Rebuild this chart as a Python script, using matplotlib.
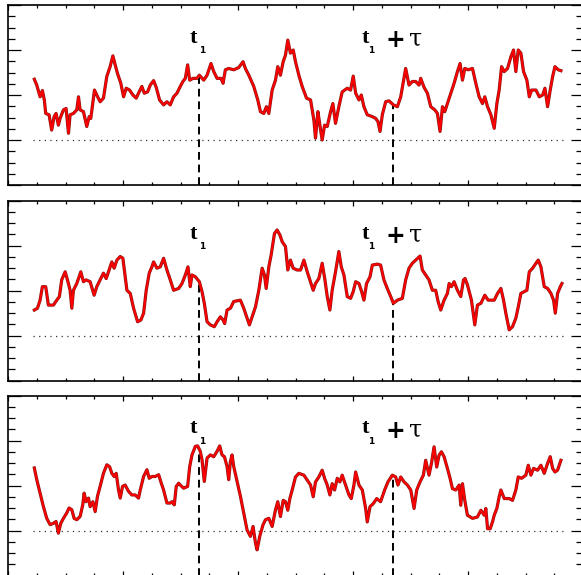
import numpy as np
import matplotlib
matplotlib.use("Agg")
import matplotlib.pyplot as plt
from matplotlib.ticker import MultipleLocator

# sample times (s) and signal values for the three realisations
panel1_t = [0.229, 0.250, 0.279, 0.299, 0.316, 0.328, 0.357, 0.380, 0.401, 0.418,
            0.438, 0.453, 0.482, 0.505, 0.526, 0.540, 0.569, 0.598, 0.613, 0.627,
            0.656, 0.685, 0.706, 0.720, 0.752, 0.772, 0.801, 0.830, 0.859, 0.888,
            0.912, 0.932, 0.952, 0.981, 1.005, 1.028, 1.057, 1.086, 1.115, 1.135,
            1.164, 1.185, 1.214, 1.237, 1.266, 1.289, 1.318, 1.353, 1.382, 1.411,
            1.440, 1.469, 1.498, 1.521, 1.542, 1.562, 1.580, 1.609, 1.643, 1.664,
            1.702, 1.731, 1.765, 1.789, 1.818, 1.852, 1.870, 1.890, 1.919, 1.963,
            2.006, 2.044, 2.064, 2.094, 2.137, 2.172, 2.195, 2.224, 2.247, 2.268,
            2.297, 2.326, 2.346, 2.369, 2.393, 2.413, 2.433, 2.456, 2.480, 2.500,
            2.529, 2.558, 2.596, 2.631, 2.660, 2.674, 2.695, 2.712, 2.732, 2.753,
            2.776, 2.805, 2.825, 2.848, 2.877, 2.906, 2.950, 2.979, 3.002, 3.023,
            3.052, 3.072, 3.095, 3.124, 3.168, 3.197, 3.217, 3.235, 3.255, 3.284,
            3.313, 3.351, 3.386, 3.415, 3.438, 3.458, 3.487, 3.516, 3.545, 3.574,
            3.589, 3.618, 3.647, 3.676, 3.711, 3.734, 3.757, 3.778, 3.798, 3.821,
            3.850, 3.879, 3.908, 3.931, 3.952, 3.972, 4.001, 4.039, 4.068, 4.097,
            4.126, 4.146, 4.170, 4.199, 4.228, 4.251, 4.271, 4.292, 4.315, 4.344,
            4.373, 4.396, 4.416, 4.437, 4.460, 4.483, 4.512, 4.533, 4.553, 4.591,
            4.620, 4.649, 4.669, 4.692, 4.715, 4.736, 4.756, 4.785, 4.808]
panel1_v = [1.35, 1.22, 0.96, 1.10, 0.89, 0.59, 0.56, 0.22, 0.52, 0.59,
            0.33, 0.48, 0.67, 0.70, 0.15, 0.56, 0.59, 0.67, 0.96, 0.67,
            0.63, 0.30, 0.52, 0.48, 1.11, 1.00, 0.85, 0.93, 1.41, 1.63,
            1.87, 1.67, 1.48, 1.26, 0.96, 1.15, 1.11, 1.00, 0.93, 1.04,
            1.19, 1.04, 1.07, 1.22, 1.32, 1.17, 0.89, 0.78, 0.85, 0.78,
            0.96, 1.04, 1.19, 1.30, 1.37, 1.67, 1.33, 1.37, 1.37, 1.44,
            1.33, 1.44, 1.70, 1.52, 1.37, 1.37, 1.26, 1.56, 1.59, 1.56,
            1.61, 1.74, 1.59, 1.44, 1.19, 0.89, 0.63, 0.59, 0.74, 0.59,
            1.11, 1.33, 1.63, 1.44, 1.74, 1.89, 2.22, 1.93, 2.00, 1.74,
            1.44, 1.19, 0.93, 0.89, 0.44, 0.04, 0.63, 0.33, 0.00, 0.33,
            0.30, 0.63, 0.81, 0.37, 0.74, 1.07, 1.15, 1.11, 1.42, 1.04,
            0.89, 1.00, 0.74, 0.56, 0.52, 0.48, 0.41, 0.19, 0.56, 0.85,
            0.87, 0.78, 0.74, 0.96, 1.30, 1.59, 1.22, 1.30, 1.30, 1.22,
            1.37, 1.17, 1.04, 0.74, 0.67, 0.59, 0.19, 0.74, 0.63, 0.81,
            1.04, 1.26, 1.52, 1.70, 1.33, 1.59, 1.56, 1.59, 1.26, 0.96,
            0.81, 0.96, 0.74, 0.56, 0.26, 0.81, 1.11, 1.63, 1.52, 1.59,
            1.85, 2.00, 1.52, 2.00, 1.93, 1.52, 1.33, 0.96, 1.11, 1.11,
            0.96, 1.00, 1.15, 0.74, 1.11, 1.41, 1.63, 1.56, 1.54]

panel2_t = [0.229, 0.256, 0.279, 0.299, 0.328, 0.351, 0.395, 0.424, 0.447, 0.467,
            0.497, 0.517, 0.540, 0.555, 0.569, 0.598, 0.633, 0.656, 0.679, 0.714,
            0.749, 0.772, 0.801, 0.830, 0.854, 0.874, 0.903, 0.923, 0.947, 0.976,
            0.999, 1.019, 1.034, 1.063, 1.092, 1.127, 1.156, 1.179, 1.202, 1.228,
            1.251, 1.266, 1.295, 1.324, 1.353, 1.382, 1.411, 1.440, 1.484, 1.513,
            1.542, 1.565, 1.585, 1.600, 1.629, 1.664, 1.687, 1.707, 1.731, 1.760,
            1.794, 1.818, 1.847, 1.870, 1.884, 1.905, 1.934, 1.963, 2.021, 2.050,
            2.079, 2.099, 2.123, 2.152, 2.181, 2.210, 2.230, 2.245, 2.268, 2.288,
            2.317, 2.340, 2.364, 2.384, 2.413, 2.433, 2.456, 2.480,
            2.514, 2.544, 2.573, 2.602, 2.625, 2.654, 2.674, 2.703, 2.732, 2.756,
            2.776, 2.799, 2.819, 2.848, 2.877, 2.898, 2.921, 2.950, 2.979, 3.002,
            3.023, 3.052, 3.075, 3.095, 3.118, 3.148, 3.168, 3.211, 3.240, 3.269,
            3.298, 3.328, 3.351, 3.386, 3.429, 3.458, 3.487, 3.516, 3.545, 3.583,
            3.603, 3.632, 3.661, 3.690, 3.719, 3.740, 3.763, 3.792, 3.821, 3.836,
            3.856, 3.879, 3.908, 3.937, 3.961, 3.975, 3.995, 4.030, 4.059, 4.082,
            4.112, 4.146, 4.175, 4.228, 4.257, 4.286, 4.309, 4.329, 4.358, 4.387,
            4.416, 4.437, 4.460, 4.489, 4.512, 4.533, 4.562, 4.591, 4.611, 4.634,
            4.663, 4.692, 4.721, 4.744, 4.759, 4.779, 4.803, 4.817]
panel2_v = [0.57, 0.61, 0.79, 1.09, 1.09, 0.68, 0.68, 0.79, 0.87, 1.24,
            1.42, 1.24, 1.01, 0.61, 1.01, 1.16, 1.42, 1.20, 1.24, 1.20,
            0.90, 1.09, 1.24, 1.39, 1.27, 1.42, 1.64, 1.50, 1.68, 1.76,
            1.72, 1.31, 1.01, 0.94, 0.61, 0.31, 0.35, 0.50, 1.01, 1.39,
            1.53, 1.64, 1.50, 1.53, 1.72, 1.46, 1.24, 1.01, 1.05, 1.16,
            1.35, 1.53, 1.09, 1.35, 1.31, 1.20, 0.98, 0.72, 0.31, 0.24,
            0.20, 0.31, 0.42, 0.35, 0.27, 0.57, 0.61, 0.76, 0.79, 0.61,
            0.39, 0.24, 0.42, 0.64, 1.01, 1.50, 1.35, 1.05, 1.53, 1.79,
            2.27, 2.35, 2.24, 2.09, 1.98, 1.46, 1.68, 1.50,
            1.46, 1.46, 1.68, 1.42, 1.24, 1.01, 1.16, 1.27, 1.61, 1.24,
            0.87, 0.57, 1.01, 1.42, 1.87, 1.53, 1.35, 0.87, 0.83, 0.98,
            1.20, 1.16, 0.98, 0.79, 1.16, 1.31, 1.57, 1.59, 1.57, 1.24,
            1.05, 0.87, 0.72, 0.79, 0.83, 1.24, 1.50, 1.61, 1.68, 1.77,
            1.46, 1.35, 1.24, 1.01, 1.01, 0.76, 0.57, 0.79, 0.94, 1.16,
            1.09, 1.20, 1.01, 0.87, 1.24, 1.27, 1.13, 0.79, 0.24, 0.68,
            0.72, 0.90, 0.79, 0.79, 0.94, 1.05, 0.79, 0.50, 0.13, 0.20,
            0.39, 0.64, 0.94, 0.98, 1.01, 1.42, 1.50, 1.61, 1.68, 1.53,
            1.09, 1.05, 0.94, 0.79, 0.50, 0.94, 1.09, 1.16]

panel3_t = [0.229, 0.250, 0.279, 0.308, 0.337, 0.366, 0.395, 0.418, 0.438, 0.459,
            0.482, 0.511, 0.531, 0.555, 0.575, 0.598, 0.627, 0.650, 0.662, 0.679,
            0.700, 0.714, 0.738, 0.758, 0.778, 0.801, 0.830, 0.859, 0.883, 0.903,
            0.923, 0.941, 0.961, 0.976, 0.996, 1.019, 1.048, 1.077, 1.106, 1.135,
            1.150, 1.179, 1.208, 1.228, 1.251, 1.280, 1.310, 1.333, 1.353, 1.382,
            1.411, 1.426, 1.446, 1.463, 1.484, 1.498, 1.527, 1.562, 1.580, 1.600,
            1.629, 1.649, 1.672, 1.687, 1.707, 1.731, 1.760, 1.789, 1.818, 1.841,
            1.861, 1.882, 1.905, 1.919, 1.934, 1.948, 1.963, 1.992, 2.021, 2.050,
            2.079, 2.108, 2.131, 2.152, 2.166, 2.189, 2.218, 2.239, 2.268, 2.297,
            2.326, 2.346, 2.369,
            2.393, 2.413, 2.433, 2.451, 2.471, 2.500, 2.529, 2.573, 2.602, 2.631,
            2.654, 2.674, 2.703, 2.732, 2.753, 2.776, 2.799, 2.819, 2.840, 2.863,
            2.886, 2.906, 2.936, 2.965, 2.985, 3.008, 3.023, 3.052, 3.081, 3.110,
            3.124, 3.148, 3.177, 3.206, 3.240, 3.275, 3.304, 3.342, 3.371, 3.391,
            3.415, 3.444, 3.473, 3.502, 3.531, 3.554, 3.583, 3.612, 3.632, 3.661,
            3.682, 3.705, 3.728, 3.748, 3.769, 3.792, 3.821, 3.844, 3.865, 3.894,
            3.923, 3.937, 3.952, 3.972, 3.995, 4.039, 4.082, 4.112, 4.141, 4.155,
            4.170, 4.193, 4.213, 4.228, 4.251, 4.271, 4.286, 4.315, 4.358, 4.387,
            4.416, 4.437, 4.466, 4.503, 4.524, 4.547, 4.570, 4.605, 4.634, 4.663,
            4.692, 4.715, 4.736, 4.756, 4.779, 4.808]
panel3_v = [1.39, 1.13, 0.83, 0.53, 0.27, 0.13, 0.16, 0.20, -0.06, 0.16,
            0.27, 0.39, 0.50, 0.46, 0.27, 0.24, 0.31, 0.57, 0.83, 0.64,
            0.72, 0.53, 0.64, 0.42, 0.76, 0.98, 1.27, 1.46, 1.42, 1.27,
            1.20, 1.27, 0.90, 0.72, 0.98, 1.01, 0.87, 0.79, 0.79, 0.72,
            0.90, 1.20, 1.35, 1.16, 1.20, 1.20, 1.24, 1.05, 0.90, 0.61,
            0.61, 0.64, 0.57, 0.98, 1.05, 1.01, 0.94, 0.98, 1.42, 1.68,
            1.87, 1.88, 1.76, 1.57, 1.09, 1.61, 1.68, 1.64, 1.76, 1.88,
            1.68, 1.64, 1.42, 1.13, 1.53, 1.68, 1.42, 1.09, 0.76, 0.39,
            0.01, -0.13, 0.09, -0.28, -0.43, -0.13, 0.13, 0.24, 0.27, 0.09,
            0.46, 0.64, 0.31,
            0.67, 0.64, 0.45, 0.71, 0.90, 1.19, 1.27, 1.23, 1.12, 1.01,
            0.75, 1.08, 1.19, 1.34, 1.16, 1.01, 0.79, 1.04, 0.90, 1.16,
            1.08, 1.23, 1.01, 0.79, 0.71, 1.01, 1.30, 1.01, 0.90, 0.49,
            0.19, 0.53, 0.60, 0.71, 0.64, 0.90, 1.08, 1.23, 1.19, 1.01,
            1.19, 1.08, 1.01, 0.90, 0.49, 0.90, 1.08, 1.23, 1.56, 1.23,
            1.49, 1.86, 1.41, 1.67, 1.75, 1.64, 1.38, 1.16, 0.93, 0.90,
            1.01, 0.56, 1.04, 0.67, 0.34, 0.27, 0.30, 0.45, 0.34, 0.49,
            0.04, 0.04, 0.19, 0.34, 0.49, 0.75, 0.90, 0.71, 0.71, 0.67,
            0.90, 1.19, 1.16, 1.23, 1.45, 1.23, 1.38, 1.34, 1.45, 1.27,
            1.49, 1.64, 1.38, 1.30, 1.34, 1.56]

t1 = 1.664
tau = 1.687
baseline = 0.0

panels = [(panel1_t, panel1_v), (panel2_t, panel2_v), (panel3_t, panel3_v)]

W, H = 581, 575
fig = plt.figure(figsize=(W / 100, H / 100), dpi=100)

# frame rows in pixels: (top, bottom)
rows = [(5, 185), (200.7, 380.7), (395.5, 575.5)]
left_px, right_px = 8, 583

serif = "Liberation Serif"

for (top, bot), (ts, vs) in zip(rows, panels):
    ax = fig.add_axes([left_px / W, (H - bot) / H,
                       (right_px - left_px) / W, (bot - top) / H])
    ax.set_xlim(0, 5)
    ax.set_ylim(-1, 3)

    ax.plot([0.22, 4.86], [baseline, baseline], color="#333333", lw=0.9,
            linestyle=(0, (1, 3.5)))

    ax.plot(ts, vs, color="#8a1818", lw=2.3, zorder=3)
    ax.plot(ts, vs, color="#ff0000", lw=1.4, zorder=4)

    for tm in (t1, t1 + tau):
        top_v = np.interp(tm, ts, vs)
        ax.plot([tm, tm], [-1, top_v], color="black", lw=1.4,
                linestyle=(0, (4, 2.5)), zorder=2)

    # labels above the curves
    ax.text(t1 - 0.05, 2.27, "t", fontsize=16, fontweight="bold",
            family=serif, ha="center", va="center")
    ax.text(t1 + 0.02, 1.98, "1", fontsize=6.5, fontweight="bold",
            family="DejaVu Sans", ha="center", va="center")
    ax.text(t1 + tau - 0.245, 2.27, "t", fontsize=16, fontweight="bold",
            family=serif, ha="center", va="center")
    ax.text(t1 + tau - 0.19, 1.98, "1", fontsize=6.5, fontweight="bold",
            family="DejaVu Sans", ha="center", va="center")
    ax.text(t1 + tau + 0.015, 2.22, "+", fontsize=17, fontweight="bold",
            family="DejaVu Sans", ha="center", va="center")
    ax.text(t1 + tau + 0.19, 2.24, "τ", fontsize=17,
            family="DejaVu Serif", ha="center", va="center")

    ax.xaxis.set_major_locator(MultipleLocator(1))
    ax.xaxis.set_minor_locator(MultipleLocator(0.25))
    ax.yaxis.set_major_locator(MultipleLocator(1))
    ax.yaxis.set_minor_locator(MultipleLocator(0.25))
    ax.tick_params(which="both", direction="in", top=True, right=True,
                   labelbottom=False, labelleft=False, color="black", width=0.9)
    ax.tick_params(axis="y", which="major", length=9)
    ax.tick_params(axis="y", which="minor", length=5)
    ax.tick_params(axis="x", which="major", length=3.5)
    ax.tick_params(axis="x", which="minor", length=2.2)
    for sp in ax.spines.values():
        sp.set_linewidth(1.2)

fig.savefig("out.png", dpi=100)
